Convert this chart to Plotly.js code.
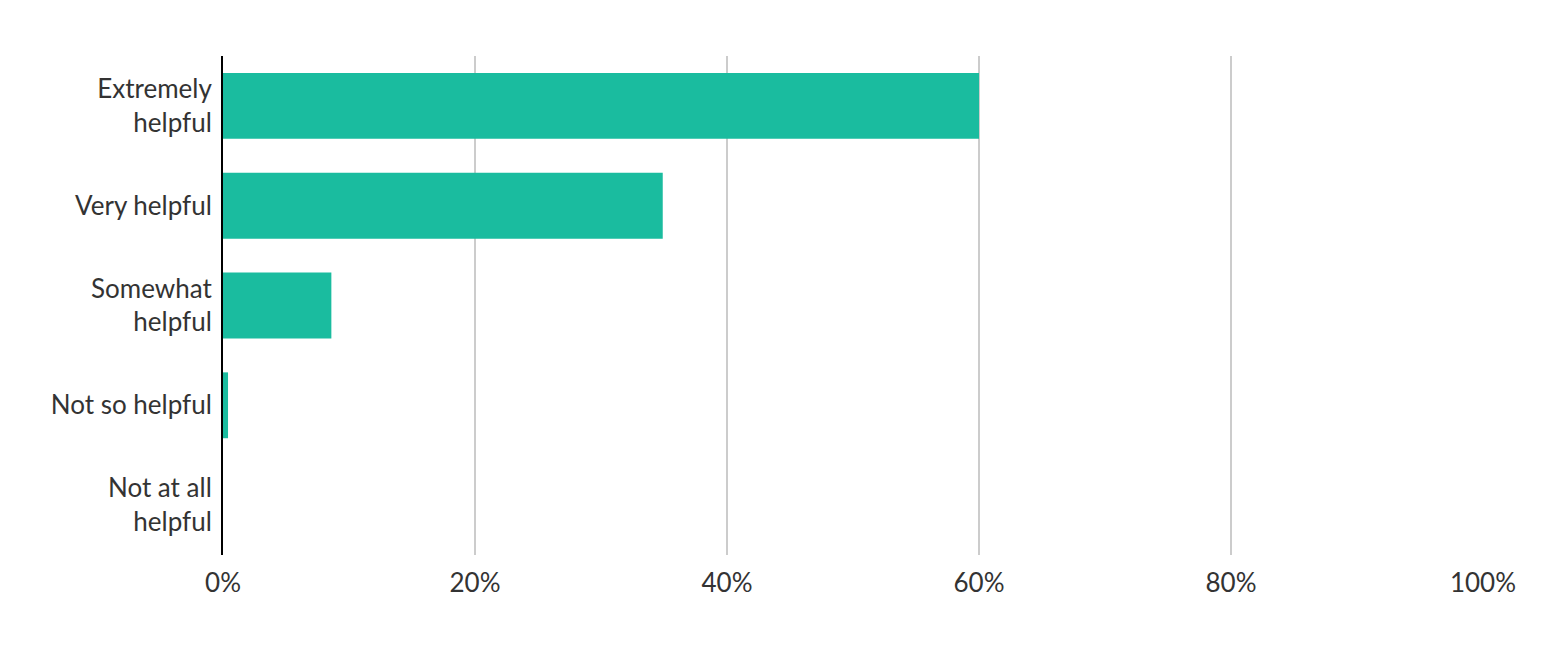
<!DOCTYPE html>
<html>
<head>
<meta charset="utf-8">
<script src="https://cdn.plot.ly/plotly-3.0.1.min.js"></script>
<style>html,body{margin:0;padding:0;background:#fff;}#chart{width:1548px;height:668px;}</style>
</head>
<body>
<div id="chart"></div>
<script>
var categories = ["Extremely<br>helpful", "Very helpful", "Somewhat<br>helpful", "Not so helpful", "Not at all<br>helpful"];
var values = [0.60, 0.349, 0.086, 0.004, 0];
var tickVals = [0, 0.2, 0.4, 0.6, 0.8, 1.0];
var tickText = ["0%", "20%", "40%", "60%", "80%", "100%"];

var trace = {
  type: "bar",
  orientation: "h",
  y: categories,
  x: values,
  marker: {color: "#1abc9f"},
  hoverinfo: "x+y"
};

var layout = {
  width: 1548, height: 668,
  margin: {l: 223, r: 65, t: 56, b: 113},
  paper_bgcolor: "#fff", plot_bgcolor: "#fff",
  font: {family: "Lato, 'Open Sans', sans-serif", size: 26, color: "#333"},
  bargap: 0.34,
  showlegend: false,
  xaxis: {
    range: [0, 1.0],
    tickvals: tickVals, ticktext: tickText,
    showgrid: true, gridcolor: "#cccccc", gridwidth: 2,
    zeroline: false, showline: false,
    ticks: "", ticklabelstandoff: 10,
    tickfont: {size: 26, color: "#333"},
    fixedrange: true
  },
  yaxis: {
    autorange: "reversed",
    showline: true, linecolor: "#000", linewidth: 2,
    showgrid: false, zeroline: false,
    ticks: "", ticklabelstandoff: 4,
    tickfont: {size: 26, color: "#333"},
    fixedrange: true
  }
};

Plotly.newPlot("chart", [trace], layout, {displayModeBar: false, staticPlot: true});
</script>
</body>
</html>
